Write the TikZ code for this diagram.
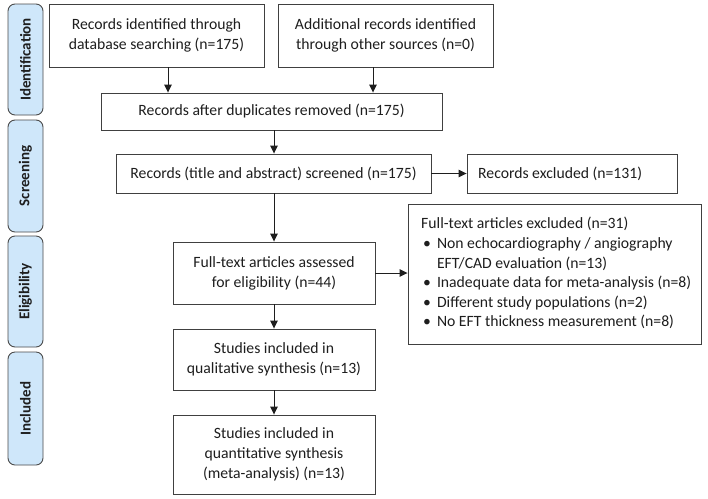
\documentclass[tikz,border=0pt]{standalone}
\usepackage{fontspec}
\setmainfont{Carlito}
\usetikzlibrary{arrows.meta}
\definecolor{sidefill}{RGB}{207,231,250}
\definecolor{ink}{RGB}{30,30,30}
\begin{document}
\begin{tikzpicture}[x=1pt,y=-1pt,
  box/.style={draw=ink!85, line width=0.9pt, align=center, inner sep=0pt, text=ink,
    font=\fontsize{15.7}{20}\selectfont},
  side/.style={draw=ink!80, line width=0.9pt, fill=sidefill, rounded corners=7pt, inner sep=0pt,
    minimum width=35pt, text=ink},
  sidetext/.style={rotate=90, font=\fontsize{15}{18}\selectfont\bfseries, text=ink},
  plain/.style={inner sep=0pt, text=ink, font=\fontsize{15.7}{19.6}\selectfont},
  arr/.style={draw=ink, line width=0.9pt, -{Triangle[length=8pt,width=7.5pt]}}]
\useasboundingbox (0,0) rectangle (708,498);
\fill[white] (0,0) rectangle (708,498);

% side labels
\node[side, minimum height=111pt] (sid) at (25.5,59.5) {};
\node[sidetext] (tid) at (sid.center) {Identification};
\node[side, minimum height=112pt] (sscr) at (25.5,176) {};
\node[sidetext] (tscr) at (sscr.center) {Screening};
\node[side, minimum height=111pt] (sel) at (25.5,291.5) {};
\node[sidetext] (tel) at (sel.center) {Eligibility};
\node[side, minimum height=113pt] (sinc) at (25.5,408.5) {};
\node[sidetext] (tinc) at (sinc.center) {Included};

% boxes
\node[box, minimum width=215pt, minimum height=63pt] (id1) at (156.5,35.5)
  {Records identified through\\database searching (n=175)};
\node[box, minimum width=215pt, minimum height=63pt] (id2) at (385.5,35.5)
  {Additional records identified\\through other sources (n=0)};
\node[box, minimum width=341pt, minimum height=37pt] (dup) at (271.5,111.5)
  {Records after duplicates removed (n=175)};
\node[box, minimum width=315pt, minimum height=39pt] (scr) at (273.5,173.5)
  {Records (title and abstract) screened (n=175)};
\node[box, minimum width=210pt, minimum height=39pt] (exc) at (572,173.5) {};
\node[plain, anchor=west] (exct) at (478,173.5) {Records excluded (n=131)};
\node[box, minimum width=202pt, minimum height=62pt] (ft) at (274,273)
  {Full-text articles assessed\\for eligibility (n=44)};
\node[box, minimum width=293pt, minimum height=140pt] (ftx) at (554.5,274) {};
\node[plain, anchor=west] (ftxt) at (421,274) {%
  \begin{tabular}{@{\hspace{2pt}}l@{\hspace{6pt}}l@{}}
  \multicolumn{2}{@{}l@{}}{Full-text articles excluded (n=31)}\\
  \textbullet & Non echocardiography / angiography\\
   & EFT/CAD evaluation (n=13)\\
  \textbullet & Inadequate data for meta-analysis (n=8)\\
  \textbullet & Different study populations (n=2)\\
  \textbullet & No EFT thickness measurement (n=8)
  \end{tabular}};
\node[box, minimum width=202pt, minimum height=61pt] (qual) at (274,359.5)
  {Studies included in\\qualitative synthesis (n=13)};
\node[box, minimum width=202pt, minimum height=79pt] (quan) at (274,454.5)
  {Studies included in\\quantitative synthesis\\(meta-analysis) (n=13)};

% arrow columns
\coordinate (c1) at (168,0);
\coordinate (c2) at (373,0);
\coordinate (c3) at (274,0);

\draw[arr] (id1.south -| c1) -- (dup.north -| c1);
\draw[arr] (id2.south -| c2) -- (dup.north -| c2);
\draw[arr] (dup.south -| c3) -- (scr.north -| c3);
\draw[arr] (scr.south -| c3) -- (ft.north -| c3);
\draw[arr] (ft.south -| c3) -- (qual.north -| c3);
\draw[arr] (qual.south -| c3) -- (quan.north -| c3);
\draw[arr] (scr.east) -- (exc.west);
\draw[arr] (ft.east) -- (ft.east -| ftx.west);
\end{tikzpicture}
\end{document}
